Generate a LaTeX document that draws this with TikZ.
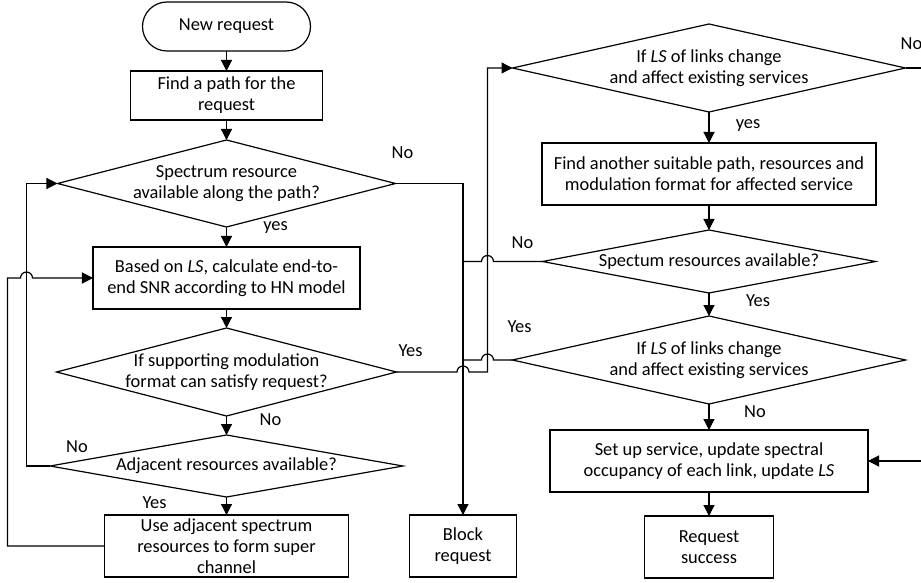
\documentclass[tikz,border=0pt]{standalone}
\usepackage{fontspec}
\setmainfont{Carlito}
\usetikzlibrary{shapes.geometric,calc,arrows.meta,positioning}

\begin{document}
\begin{tikzpicture}[>={Triangle[length=5.5pt,width=5.5pt]}, font=\fontsize{9.2}{10.5}\selectfont, line width=0.6pt,
  proc/.style={draw, align=center, inner xsep=2pt, inner ysep=0pt, outer sep=0pt},
  dec/.style={draw, diamond, aspect=4, align=center, inner sep=-4pt, outer sep=0pt},
  term/.style={draw, rounded corners=12.25pt, align=center, minimum width=84pt, minimum height=24.5pt, outer sep=0pt},
  lbl/.style={inner sep=0pt}]
\useasboundingbox (-113.25pt,13.25pt) rectangle ++(460.5pt,-291.5pt);
\node[term] (start) at (0,0) {New request};
\node[proc, minimum width=96pt, minimum height=24.5pt, below=10pt of start] (path) {Find a path for the\\request};
\node[dec, minimum width=169pt, minimum height=43.5pt, below=10pt of path] (d1) {Spectrum resource\\available along the path?};
\node[proc, minimum width=133.5pt, minimum height=31pt, below=10pt of d1] (snr) {Based on \textit{LS}, calculate end-to-\\end SNR according to HN model};
\node[dec, minimum width=170pt, minimum height=44pt, below=9.5pt of snr] (d2) {If supporting modulation\\format can satisfy request?};
\node[dec, minimum width=176.5pt, minimum height=31pt, below=9.5pt of d2] (d3) {Adjacent resources available?};
\node[proc, minimum width=122pt, minimum height=31pt, below=9pt of d3] (adj) {Use adjacent spectrum\\resources to form super\\channel};
\node[proc, minimum width=53.5pt, minimum height=31pt, right=30.5pt of adj] (block) {Block\\request};
\node[dec, minimum width=196.5pt, minimum height=44pt, anchor=north] (r1) at (241.25pt,1.25pt) {If \textit{LS} of links change\\and affect existing services};
\node[proc, minimum width=167pt, minimum height=31pt, below=15.5pt of r1] (other) {Find another suitable path, resources and\\modulation format for affected service};
\node[dec, minimum width=166.5pt, minimum height=31.5pt, below=12.5pt of other] (r2) {Spectum resources available?};
\node[dec, minimum width=196.5pt, minimum height=44pt, below=11.5pt of r2] (r3) {If \textit{LS} of links change\\and affect existing services};
\node[proc, minimum width=159pt, minimum height=31pt, below=13pt of r3] (setup) {Set up service, update spectral\\occupancy of each link, update \textit{LS}};
\node[proc, minimum width=64.5pt, minimum height=31pt, below=12pt of setup] (done) {Request\\success};
\coordinate (loopA) at ([xshift=-15.5pt]d1.west);
\coordinate (loopB) at ([xshift=-48.5pt]adj.west);
\coordinate (rise) at ([xshift=12.25pt]block.north);
\coordinate (rim) at ([xshift=10pt]r1.east);
\draw[->] (start) -- (path);
\draw[->] (path) -- (d1);
\draw[->] (d1) -- (snr);
\draw[->] (snr) -- (d2);
\draw[->] (d2) -- (d3);
\draw[->] (d3) -- (adj);
\draw[->] (r1) -- (other);
\draw[->] (other) -- (r2);
\draw[->] (r2) -- (r3);
\draw[->] (r3) -- (setup);
\draw[->] (setup) -- (done);
\draw[->] (d1.east) -| (block.north);
\draw[->] (d3.west) -| (loopA) -- (d1.west);
\draw[->] (adj.west) -| (loopB |- snr.west) -- ($(loopA |- snr.west)+(-3pt,0)$) arc[start angle=180, end angle=0, radius=3pt] -- (snr.west);
\draw[->] (d2.east) -- ($(d2.east -| block.north)+(-3pt,0)$) arc[start angle=180, end angle=0, radius=3pt] -- (d2.east -| rise) |- (r1.west);
\draw (r2.west) -- ($(r2.west -| rise)+(3pt,0)$) arc[start angle=0, end angle=180, radius=3pt] -- (r2.west -| block.north);
\draw (r3.west) -- ($(r3.west -| rise)+(3pt,0)$) arc[start angle=0, end angle=180, radius=3pt] -- (r3.west -| block.north);
\draw[->] (r1.east) -- (rim) |- (setup.east);
\node[lbl, xshift=3.5pt, yshift=15.5pt] at (d1.east) {No};
\node[lbl, xshift=24.5pt, yshift=-0.5pt] at (d1.south) {yes};
\node[lbl, xshift=7pt, yshift=10.5pt] at (d2.east) {Yes};
\node[lbl, xshift=22pt, yshift=-2pt] at (d2.south) {No};
\node[lbl, xshift=13.5pt, yshift=9.5pt] at (d3.west) {No};
\node[lbl, xshift=-36pt, yshift=-3pt] at (d3.south) {Yes};
\node[lbl, xshift=3pt, yshift=12pt] at (r1.east) {No};
\node[lbl, xshift=19.5pt, yshift=-7pt] at (r1.south) {yes};
\node[lbl, xshift=-10pt, yshift=9.5pt] at (r2.west) {No};
\node[lbl, xshift=24.5pt, yshift=-4pt] at (r2.south) {Yes};
\node[lbl, xshift=3.5pt, yshift=16.5pt] at (r3.west) {Yes};
\node[lbl, xshift=23pt, yshift=-4pt] at (r3.south) {No};
\end{tikzpicture}
\end{document}
